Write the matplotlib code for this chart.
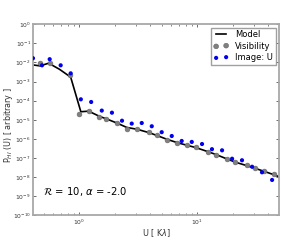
import matplotlib
matplotlib.use("Agg")
import matplotlib.pyplot as plt

# visibility (gray) points
vis_u = [0.465, 0.565, 0.83, 0.99, 1.20, 1.48, 1.69, 2.08, 2.52, 3.10, 3.92, 4.53,
         5.57, 6.78, 8.23, 9.75, 12.3, 14.4, 17.8, 21.0, 26.2, 30.8, 36.8, 44.7]
vis_p = [-2.04, -2.04, -2.64, -4.70, -4.52, -4.84, -4.94, -5.19, -5.48, -5.50, -5.65, -5.80,
         -6.06, -6.20, -6.34, -6.45, -6.69, -6.83, -7.07, -7.23, -7.37, -7.51, -7.68, -7.84]

# image (blue) points
img_u = [0.405, 0.483, 0.561, 0.695, 0.845, 1.03, 1.26, 1.55, 1.89, 2.30, 2.78, 3.38, 4.11,
         4.99, 6.07, 7.37, 8.97, 10.96, 13.3, 16.2, 19.7, 23.9, 29.1, 35.3, 43.0]
img_p = [-1.78, -2.15, -1.83, -2.15, -2.57, -3.93, -4.07, -4.52, -4.63, -5.05, -5.20, -5.17, -5.34,
         -5.65, -5.85, -6.11, -6.16, -6.27, -6.54, -6.60, -7.04, -7.12, -7.46, -7.75, -8.15]

# model line
mod_u = [0.405, 0.465, 0.55, 0.68, 0.845, 1.03, 1.20, 1.48, 1.69, 2.08, 2.52, 3.10, 3.92, 4.53,
         5.57, 6.78, 8.23, 9.75, 12.3, 14.4, 17.8, 21.0, 26.2, 30.8, 36.8, 44.7, 49.2]
mod_p = [-2.13, -2.18, -2.04, -2.36, -2.77, -4.58, -4.55, -4.82, -4.95, -5.17, -5.40, -5.50, -5.68, -5.82,
         -6.03, -6.20, -6.34, -6.46, -6.67, -6.82, -7.05, -7.22, -7.40, -7.54, -7.70, -7.88, -7.98]

plt.rcParams['font.size'] = 5
fig = plt.figure(figsize=(2.81, 2.40), dpi=100)
ax = fig.add_axes([0.1174, 0.103, 0.8755, 0.796])

ax.plot(mod_u, [10 ** p for p in mod_p], color='k', lw=1.2, label='Model', zorder=2)
ax.scatter(vis_u, [10 ** p for p in vis_p], s=12, color='#808080', edgecolors='#666666',
           linewidths=0.4, label='Visibility', zorder=3)
ax.scatter(img_u, [10 ** p for p in img_p], s=9, color='#0000ee', edgecolors='none',
           label='Image: U', zorder=4)

ax.set_xscale('log')
ax.set_yscale('log')
ax.set_xlim(0.405, 49.2)
ax.set_ylim(1e-10, 1e0)
ax.set_yticks([10.0 ** k for k in range(-10, 1)])

for sp in ax.spines.values():
    sp.set_color('#a8a8a8')
    sp.set_linewidth(1.3)
ax.tick_params(which='both', direction='in', top=True, right=True, colors='#555555',
               labelcolor='#333333', labelsize=4.3, pad=1.5)
ax.tick_params(which='major', length=2.5, width=0.6)
ax.tick_params(which='minor', length=1.5, width=0.5)

ax.set_xlabel(r'U [ K$\lambda$]', fontsize=5.8, color='#333333')
ax.set_ylabel(r'P$_{HI}$ (U) [ arbitrary ]', fontsize=5.8, color='#333333')
ax.xaxis.set_label_coords(0.5, -0.062)
ax.yaxis.set_label_coords(-0.074, 0.47)

ax.text(0.04, 0.105, r'$\mathcal{R}$ = 10, $\alpha$ = -2.0', transform=ax.transAxes,
        fontsize=7.2, color='k')

leg = ax.legend(loc='upper right', numpoints=2, scatterpoints=2, fontsize=6, fancybox=False,
                borderpad=0.3, labelspacing=0.3, handlelength=1.8, handletextpad=0.8,
                borderaxespad=0.4)
leg.get_frame().set_edgecolor('#888888')
leg.get_frame().set_linewidth(1.0)

fig.savefig('out.png', dpi=100)
